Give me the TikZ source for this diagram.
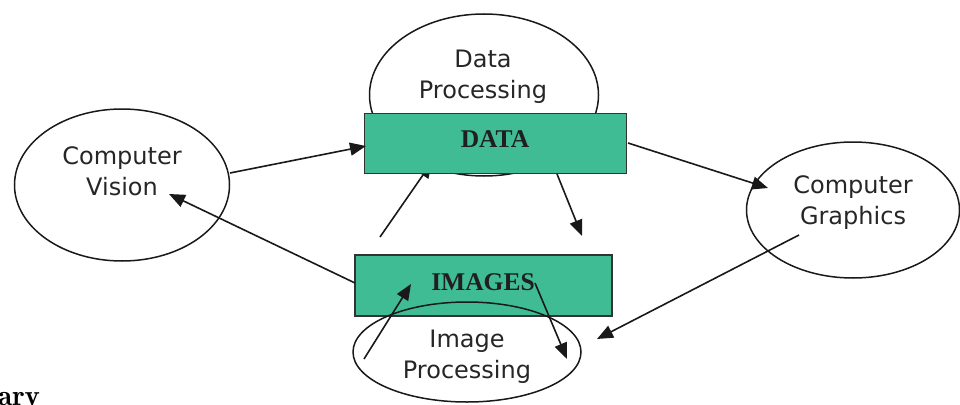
\documentclass[tikz,border=0pt]{standalone}
\usepackage{fontspec}
\setmainfont{DejaVu Sans}
\newfontfamily\boxfont{Liberation Serif}
\usetikzlibrary{arrows.meta,shapes.geometric}
\definecolor{boxgreen}{HTML}{40BC94}
\definecolor{boxedge}{HTML}{333333}
\tikzset{
  ellipsenode/.style={draw=black!90, line width=1.5pt, ellipse, inner sep=0pt},
  greenbox/.style={draw=boxedge, line width=1.8pt, fill=boxgreen, inner sep=0pt},
  lbl/.style={font=\fontsize{24}{31}\selectfont, text=black!85, align=center, anchor=base, inner sep=0pt},
  boxlbl/.style={font=\boxfont\bfseries\fontsize{25.5}{30}\selectfont, text=black!88, anchor=base, inner sep=0pt},
  conn/.style={line width=1.6pt, draw=black!90, -{Triangle[length=16pt,width=13pt]}}
}
\begin{document}
\begin{tikzpicture}[x=1pt,y=-1pt]
\useasboundingbox (0,0) rectangle (960,404);
% ellipses
\node[ellipsenode, minimum width=229pt, minimum height=162pt] (DP) at (484,95) {};
\node[ellipsenode, minimum width=215pt, minimum height=152pt] (CV) at (122,185) {};
\node[ellipsenode, minimum width=213pt, minimum height=136pt] (CG) at (853,210) {};
% coordinates of connector ends
\coordinate (a1s) at (230,173);
\coordinate (a1e) at (366,146);
\coordinate (a2s) at (355,283);
\coordinate (a2e) at (169,194);
\coordinate (a3s) at (380,237);
\coordinate (a3e) at (432,162);
\coordinate (a4s) at (557,174);
\coordinate (a4e) at (582,236);
\coordinate (a5s) at (628,143);
\coordinate (a5e) at (768,188);
\coordinate (a6s) at (799,235);
\coordinate (a6e) at (597,339);
\coordinate (a7s) at (364,359);
\coordinate (a7e) at (411,284);
\coordinate (a8s) at (535,283);
\coordinate (a8e) at (567,359);
% arrow partly hidden under DATA
\draw[conn] (a3s) -- (a3e);
% boxes
\node[greenbox, minimum width=262pt, minimum height=60pt] (DATA) at (495.5,143.5) {};
\node[greenbox, minimum width=257pt, minimum height=61pt] (IMAGES) at (483.5,285.5) {};
\node[ellipsenode, minimum width=228pt, minimum height=100pt] (IP) at (467,352) {};
% labels (base anchor = baseline of the last line)
\node[lbl] (tDP) at (483,98) {Data\\Processing};
\node[lbl] (tCV) at (122,195) {Computer\\Vision};
\node[lbl] (tCG) at (853,224) {Computer\\Graphics};
\node[lbl] (tIP) at (467,378) {Image\\Processing};
\node[boxlbl] (tDATA) at (495,147) {DATA};
\node[boxlbl] (tIMG) at (483,290) {IMAGES};
\node[anchor=base west, inner sep=0pt, font=\fontfamily{lmr}\bfseries\fontsize{29}{32}\selectfont] (ary) at (-2,405) {ary};
% connectors
\draw[conn] (a1s) -- (a1e);
\draw[conn] (a2s) -- (a2e);
\draw[conn] (a4s) -- (a4e);
\draw[conn] (a5s) -- (a5e);
\draw[conn] (a6s) -- (a6e);
\draw[conn] (a7s) -- (a7e);
\draw[conn] (a8s) -- (a8e);
\end{tikzpicture}
\end{document}
